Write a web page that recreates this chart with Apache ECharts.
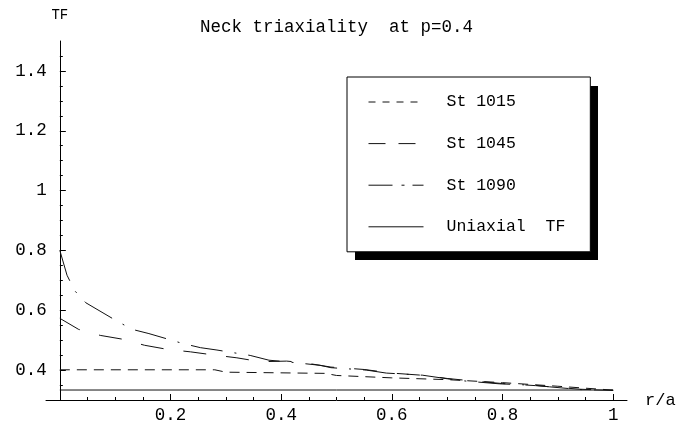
<!DOCTYPE html>
<html>
<head>
<meta charset="utf-8">
<script src="https://cdn.jsdelivr.net/npm/echarts@6/dist/echarts.min.js"></script>
<style>html,body{margin:0;padding:0;background:#fff}#c{width:680px;height:429px}</style>
</head>
<body>
<div id="c"></div>
<script>
// ---- data ----
const titleText = 'Neck triaxiality  at p=0.4';
const seriesNames = ['St 1015', 'St 1045', 'St 1090', 'Uniaxial  TF'];

const x1015 = [0, 0.28, 0.30, 0.48, 0.50, 0.60, 0.70, 0.80, 0.90, 1.0];
const y1015 = [0.401, 0.401, 0.393, 0.389, 0.382, 0.374, 0.368, 0.358, 0.346, 0.333];

const x1045 = [0, 0.034, 0.073, 0.114, 0.153, 0.195, 0.236, 0.28, 0.32, 0.362, 0.41, 0.44, 0.49, 0.55, 0.60, 0.66, 0.70, 0.75, 0.80, 0.86, 0.90, 0.94, 1.0];
const y1045 = [0.573, 0.536, 0.516, 0.503, 0.483, 0.469, 0.461, 0.45, 0.441, 0.428, 0.430, 0.425, 0.41, 0.402, 0.39, 0.382, 0.372, 0.363, 0.355, 0.348, 0.342, 0.336, 0.332];

const x1090 = [0, 0.013, 0.027, 0.047, 0.103, 0.131, 0.161, 0.222, 0.254, 0.284, 0.344, 0.378, 0.409, 0.47, 0.49, 0.554, 0.59, 0.655, 0.70, 0.735, 0.795, 0.86, 0.885, 0.94, 1.0];
const y1090 = [0.80, 0.717, 0.665, 0.625, 0.564, 0.536, 0.522, 0.489, 0.475, 0.467, 0.449, 0.433, 0.428, 0.416, 0.408, 0.40, 0.39, 0.383, 0.371, 0.363, 0.354, 0.349, 0.344, 0.335, 0.332];

const xUni = [0, 1];
const yUni = [1/3, 1/3];

const xMajorTicks = [0.2, 0.4, 0.6, 0.8, 1];
const xMinorTicks = [0.05, 0.1, 0.15, 0.25, 0.3, 0.35, 0.45, 0.5, 0.55, 0.65, 0.7, 0.75, 0.85, 0.9, 0.95];
const yMajorTicks = [0.4, 0.6, 0.8, 1, 1.2, 1.4];
const yMinorTicks = [0.35, 0.45, 0.5, 0.55, 0.65, 0.7, 0.75, 0.85, 0.9, 0.95, 1.05, 1.1, 1.15, 1.25, 1.3, 1.35, 1.45];

// ---- chart ----
const pairs = (xs, ys) => xs.map((x, i) => [x, ys[i]]);
const FONT = '"Liberation Mono", "DejaVu Sans Mono", monospace';
const fmt = v => String(+(+v).toFixed(2));

const GRID_LEFT = 46, GRID_RIGHT = 53;
const X_MIN = -0.025, X_MAX = 1.025;
const plotW = 680 - GRID_LEFT - GRID_RIGHT;
// y axis sits at x = 0 of the x scale
const yAxisOffset = -(0 - X_MIN) / (X_MAX - X_MIN) * plotW;

const chart = echarts.init(document.getElementById('c'), null, {renderer: 'canvas'});
const xBase = {
  type: 'value', min: X_MIN, max: X_MAX, position: 'bottom',
  splitLine: {show: false}
};
const yBase = {
  type: 'value', min: 0.3, max: 1.5, position: 'left', offset: yAxisOffset,
  splitLine: {show: false}
};
const lineSeries = (name, data, dash) => ({
  name, type: 'line', data, symbol: 'none', showSymbol: false,
  xAxisIndex: 0, yAxisIndex: 0,
  lineStyle: {color: '#111', width: 1, type: dash},
  itemStyle: {color: '#111'},
  emphasis: {disabled: true},
  z: 3
});

chart.setOption({
  animation: false,
  backgroundColor: '#fff',
  title: {
    text: titleText, left: 195, top: 13,
    textStyle: {fontFamily: FONT, fontSize: 17.5, fontWeight: 'normal', color: '#000'}
  },
  grid: {left: GRID_LEFT, right: GRID_RIGHT, top: 41, bottom: 29, containLabel: false},
  graphic: [{
    type: 'rect', z: 1, silent: true,
    shape: {x: 355, y: 86, width: 243, height: 174},
    style: {fill: '#000'}
  }],
  legend: {
    orient: 'vertical', left: 347, top: 77, z: 5,
    padding: [15, 25, 15, 21],
    itemWidth: 55, itemHeight: 14, itemGap: 21.6,
    backgroundColor: '#fff', borderColor: '#000', borderWidth: 1, borderRadius: 0,
    itemStyle: {opacity: 0, color: 'transparent', borderWidth: 0},
    textStyle: {fontFamily: FONT, fontSize: 16.5, color: '#000', lineHeight: 20, padding: [0, 0, 0, 18]},
    data: [
      {name: seriesNames[0], lineStyle: {type: [7, 7], color: '#111', width: 1}},
      {name: seriesNames[1], lineStyle: {type: [17, 13], color: '#111', width: 1}},
      {name: seriesNames[2], lineStyle: {type: [24, 9, 3, 8, 11, 100], color: '#111', width: 1}},
      {name: seriesNames[3], lineStyle: {type: 'solid', color: '#111', width: 1}}
    ],
    selectedMode: false
  },
  xAxis: [
    Object.assign({}, xBase, {
      name: 'r/a', nameLocation: 'end', nameGap: 18,
      nameTextStyle: {fontFamily: FONT, fontSize: 17, color: '#000', verticalAlign: 'middle'},
      axisLine: {show: true, onZero: false, lineStyle: {color: '#000', width: 1}},
      axisTick: {show: true, inside: true, length: 6, customValues: xMajorTicks, lineStyle: {color: '#000'}},
      axisLabel: {show: true, customValues: xMajorTicks, formatter: fmt, margin: 6,
        fontFamily: FONT, fontSize: 17.5, color: '#000'}
    }),
    Object.assign({}, xBase, {
      axisLine: {show: false, onZero: false},
      axisTick: {show: true, inside: true, length: 3, customValues: xMinorTicks, lineStyle: {color: '#000'}},
      axisLabel: {show: false}
    })
  ],
  yAxis: [
    Object.assign({}, yBase, {
      name: 'TF', nameLocation: 'end', nameGap: 19,
      nameTextStyle: {fontFamily: FONT, fontSize: 14, color: '#000', align: 'center'},
      axisLine: {show: true, onZero: false, lineStyle: {color: '#000', width: 1}},
      axisTick: {show: true, inside: true, length: 6, customValues: yMajorTicks, lineStyle: {color: '#000'}},
      axisLabel: {show: true, customValues: yMajorTicks, formatter: fmt, margin: 13,
        fontFamily: FONT, fontSize: 17.5, color: '#000'}
    }),
    Object.assign({}, yBase, {
      axisLine: {show: false, onZero: false},
      axisTick: {show: true, inside: true, length: 3, customValues: yMinorTicks, lineStyle: {color: '#000'}},
      axisLabel: {show: false}
    })
  ],
  series: [
    lineSeries(seriesNames[0], pairs(x1015, y1015), [10, 7]),
    lineSeries(seriesNames[1], pairs(x1045, y1045), [23, 20]),
    lineSeries(seriesNames[2], pairs(x1090, y1090), [32, 12, 2, 12]),
    lineSeries(seriesNames[3], pairs(xUni, yUni), 'solid')
  ]
});
</script>
</body>
</html>
